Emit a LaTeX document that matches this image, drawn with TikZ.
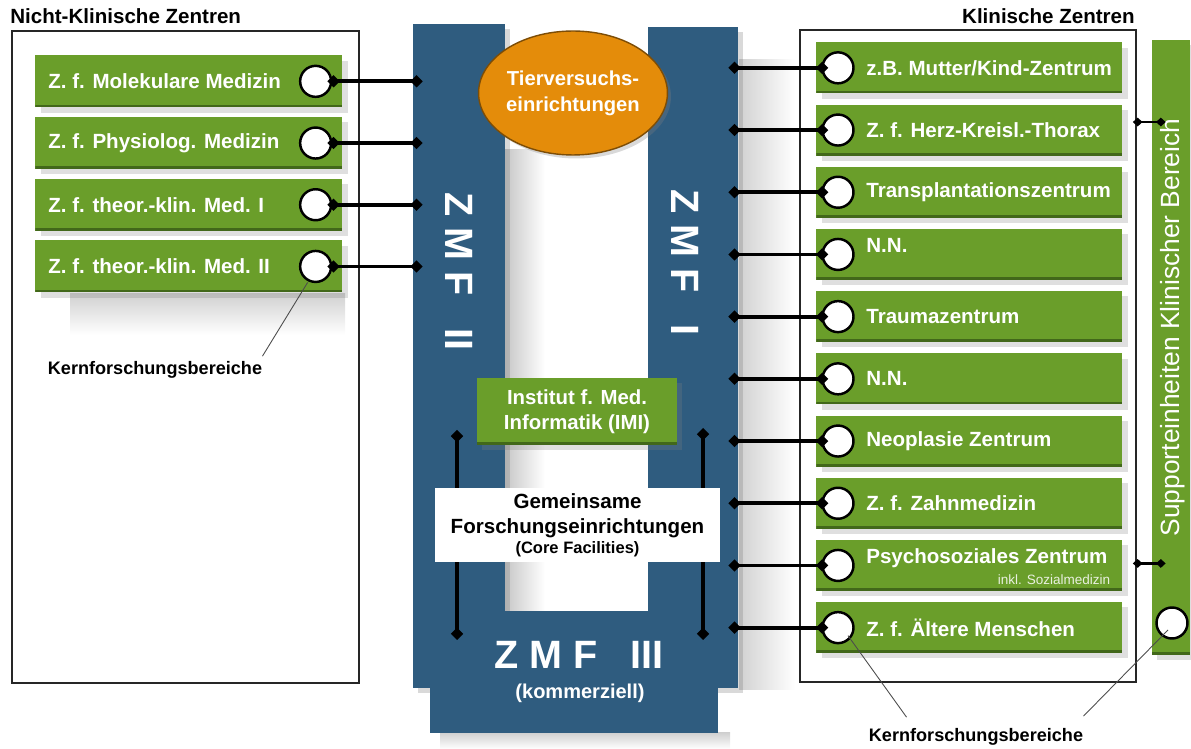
\documentclass[tikz,border=0pt]{standalone}
\usepackage{fontspec}
\setmainfont{Liberation Sans}
\usetikzlibrary{arrows.meta,shadows,shapes.geometric,calc}

\definecolor{zgreen}{RGB}{106,158,42}
\definecolor{zgreendark}{RGB}{66,104,26}
\definecolor{zblue}{RGB}{47,92,127}
\definecolor{zorange}{RGB}{228,140,10}

\tikzset{
  greenbox/.style={rectangle, fill=zgreen, inner sep=0pt,
    drop shadow={shadow xshift=3pt, shadow yshift=-3pt, opacity=0.25},
    path picture={\fill[zgreendark] (path picture bounding box.south west) rectangle ([yshift=1.6pt]path picture bounding box.south east);}},
  lbox/.style={greenbox, anchor=north west, minimum width=6.14cm, minimum height=1.04cm},
  rbox/.style={greenbox, anchor=north west, minimum width=6.12cm, minimum height=1.02cm},
  boxtext/.style={text=white, font=\bfseries\fontsize{11.7}{14}\selectfont, inner sep=0pt, anchor=west},
  knob/.style={circle, draw=black, line width=1.4pt, fill=white, minimum size=0.62cm, inner sep=0pt},
  link/.style={draw=black, line width=2.2pt, {Diamond[length=7pt,width=7pt]}-{Diamond[length=7pt,width=7pt]}},
  slink/.style={draw=black, line width=1.3pt, {Diamond[length=5.5pt,width=5pt]}-{Diamond[length=5.5pt,width=5pt]}},
  zblock/.style={rectangle, fill=zblue, inner sep=0pt},
  zcolumn/.style={zblock, drop shadow={shadow xshift=3pt, shadow yshift=-3pt, opacity=0.3}},
  zmftext/.style={text=white, font=\bfseries\fontsize{22.5}{26}\selectfont, inner sep=0pt},
  zframe/.style={rectangle, draw=black!85, line width=1pt, inner sep=0pt},
  heading/.style={font=\bfseries\fontsize{11.7}{14}\selectfont, inner sep=0pt},
  kern/.style={font=\bfseries\fontsize{10.3}{12}\selectfont, inner sep=0pt},
  leader/.style={draw=black!70, line width=0.5pt},
}

\begin{document}
\begin{tikzpicture}[x=0.02cm,y=-0.02cm]
\useasboundingbox (0,0) rectangle (1191,749);

% soft shadows
\shade[left color=black!22, right color=white] (505,150) rectangle (545,611);
\shade[left color=black!18, right color=white] (739,60) rectangle (795,690);
\shade[top color=black!18, bottom color=white] (70,294) rectangle (345,335);
\shade[top color=black!18, bottom color=white] (440,733) rectangle (730,749);

% frames and headings
\node[zframe, minimum width=6.94cm, minimum height=13.04cm] (lframe) at (185.5,357) {};
\node[zframe, minimum width=6.72cm, minimum height=13.04cm] (rframe) at (968,356) {};
\node[heading, anchor=base west] (lhead) at (10,24) {Nicht-Klinische Zentren};
\node[heading, anchor=base east] (rhead) at (1135,24) {Klinische Zentren};

% the two ZMF columns
\node[zcolumn, minimum width=1.84cm, minimum height=13.28cm] (zmf2) at (459,356) {};
\node[zcolumn, minimum width=1.8cm, minimum height=13.22cm] (zmf1) at (693,357.5) {};
\node[zmftext, rotate=-90] (zmf2lbl) at (459,271.5) {Z M F\hspace{0.65cm}II};
\node[zmftext, rotate=-90] (zmf1lbl) at (685,262.5) {Z M F\hspace{0.65cm}I};

% Tierversuch
\node[ellipse, fill=zorange, draw=zorange!55!black, line width=0.8pt, minimum width=3.32cm, minimum height=2.48cm,
  inner sep=0pt, text=white, align=center, font=\bfseries\fontsize{11.5}{14.8}\selectfont,
  drop shadow={shadow xshift=2pt, shadow yshift=-2pt, opacity=0.3}] (tier) at (573,93) {Tierversuchs-\\einrichtungen};

% IMI
\node[greenbox, minimum width=4cm, minimum height=1.34cm, text=white, align=center,
  font=\bfseries\fontsize{11.6}{14.2}\selectfont] (imi) at (577,411.5) {Institut f. Med.\\Informatik (IMI)};

% ZMF III
\node[zblock, minimum width=5.76cm, minimum height=2.44cm] (zmf3) at (574,672) {};
\node[zmftext] (zmf3lbl) at (579,655) {Z M F\hspace{0.65cm}III};
\node[text=white, font=\bfseries\fontsize{11.4}{13}\selectfont, inner sep=0pt] (komm) at (580,693) {(kommerziell)};

% vertical links behind the core facilities
\coordinate (v2a) at (457,430);
\coordinate (v2b) at (457,640);
\coordinate (v1a) at (703,428);
\coordinate (v1b) at (703,640);
\draw[link] (v2a) -- (v2b);
\draw[link] (v1a) -- (v1b);

\node[rectangle, fill=white, minimum width=5.7cm, minimum height=1.48cm, inner sep=0pt, align=center,
  font=\bfseries\fontsize{11.7}{14.2}\selectfont] (gfe) at (577.5,525)
  {Gemeinsame\\Forschungseinrichtungen\\[-3pt]{\fontsize{9.4}{11}\selectfont(Core Facilities)}};

% non-clinical centres
\foreach \i/\txt in {1/{Z. f. Molekulare Medizin},2/{Z. f. Physiolog. Medizin},
                     3/{Z. f. theor.-klin. Med. I},4/{Z. f. theor.-klin. Med. II}} {
  \node[lbox] (l\i) at (35,{55+61.7*(\i-1)}) {};
  \node[boxtext] (lt\i) at ($(l\i.west)+(13,0)$) {\txt};
  \node[knob] (lk\i) at ($(l\i.east)+(-27,0)$) {};
  \draw[link] ($(lk\i.east)+(-5,0)$) -- ($(zmf2.west |- lk\i.center)+(10,0)$);
}

% clinical centres
\foreach \i/\txt/\dy in {1/{z.B. Mutter/Kind-Zentrum}/0,2/{Z. f. Herz-Kreisl.-Thorax}/0,
                         3/{Transplantationszentrum}/0,4/{N.N.}/-9,5/{Traumazentrum}/0,
                         6/{N.N.}/0,7/{Neoplasie Zentrum}/0,8/{Z. f. Zahnmedizin}/0,
                         9/{Psychosoziales Zentrum}/-7,10/{Z. f. \"Altere Menschen}/0} {
  \node[rbox] (r\i) at (816,{42+62.2*(\i-1)}) {};
  \node[boxtext] (rt\i) at ($(r\i.west)+(50,\dy)$) {\txt};
  \node[knob] (rk\i) at ($(r\i.west)+(22,0)$) {};
  \draw[link] ($(zmf1.east |- rk\i.center)+(-10,0)$) -- ($(rk\i.west)+(7,0)$);
}
\node[text=white!85!zgreen, font=\fontsize{7.7}{9}\selectfont, inner sep=0pt, anchor=east] (inkl)
  at ($(r9.east)+(-12,14)$) {inkl. Sozialmedizin};

% support units
\node[greenbox, minimum width=0.76cm, minimum height=12.3cm] (sup) at (1171,347.5) {};
\node[text=white, font=\fontsize{15}{18}\selectfont, inner sep=0pt, rotate=90] (suplbl) at (1173,327.5)
  {Supporteinheiten Klinischer Bereich};
\node[knob] (sk) at (1172,623) {};
\draw[slink] ($(rframe.east |- r2.center)+(-4,-8)$) -- ($(sup.west |- r2.center)+(14,-8)$);
\draw[slink] ($(rframe.east |- r9.center)+(-4,-2)$) -- ($(sup.west |- r9.center)+(14,-2)$);

% Kernforschungsbereiche
\node[kern] (kernl) at (155,370) {Kernforschungsbereiche};
\node[kern] (kernr) at (976,737) {Kernforschungsbereiche};
\draw[leader] ($(kernl.north east)+(0,-5)$) -- ($(lk4.center)+(-8,16)$);
\draw[leader] ($(kernr.north west)+(38,-11)$) -- ($(rk10.center)+(10,8)$);
\draw[leader] ($(kernr.north east)+(0,-12)$) -- ($(sk.center)+(-4,7)$);

\end{tikzpicture}
\end{document}
